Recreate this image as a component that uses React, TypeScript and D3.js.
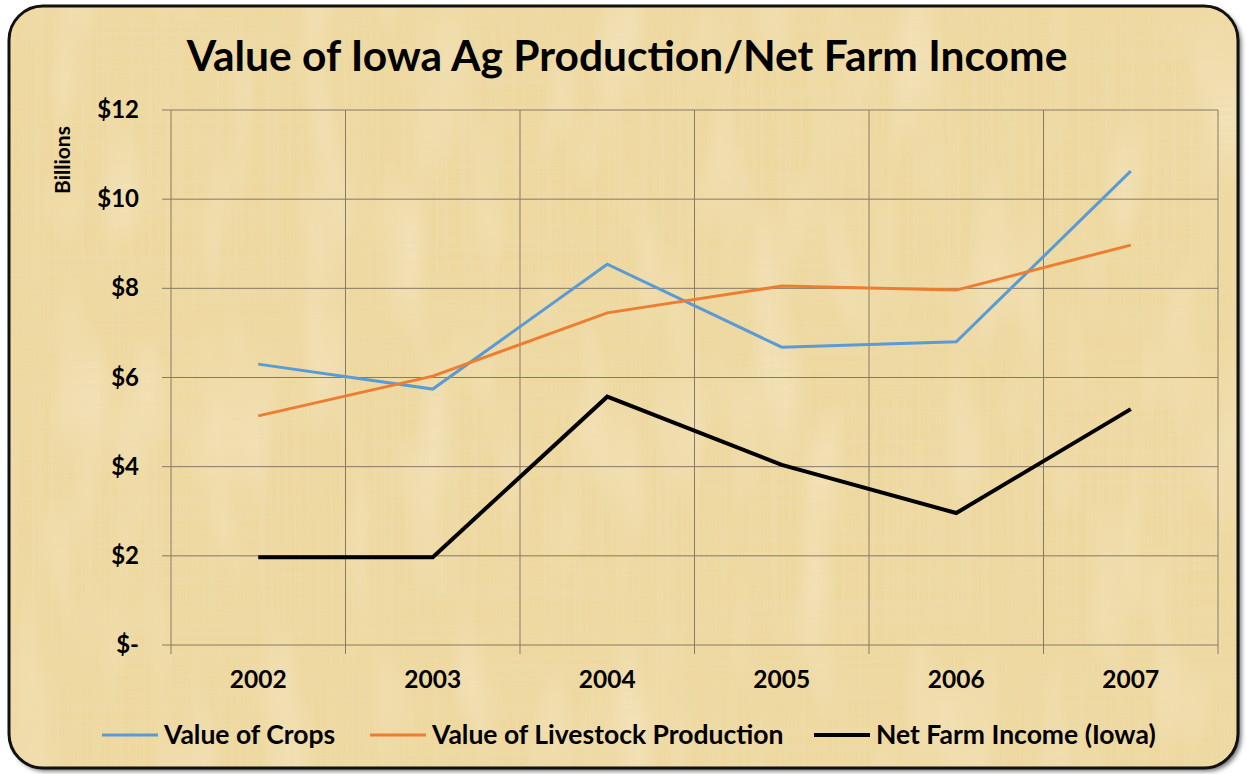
import React from "react";
import * as d3 from "d3";

const years = ["2002", "2003", "2004", "2005", "2006", "2007"];
const crops = [6.3, 5.74, 8.54, 6.68, 6.8, 10.63];
const livestock = [5.14, 6.03, 7.45, 8.05, 7.96, 8.97];
const netIncome = [1.97, 1.97, 5.57, 4.04, 2.96, 5.29];
const yTicks = [0, 2, 4, 6, 8, 10, 12];
const seriesNames = ["Value of Crops", "Value of Livestock Production", "Net Farm Income (Iowa)"];
const seriesColors = ["#5B9BD5", "#ED7D31", "#000000"];

const W = 1247, H = 774;
const M = { left: 171, right: 1218, top: 110, bottom: 645 };
const FONT = "Lato, 'Open Sans', sans-serif";

export default function App() {
  const x = d3.scaleBand<string>().domain(years).range([M.left, M.right]).padding(0);
  const y = d3.scaleLinear().domain([0, 12]).range([M.bottom, M.top]);
  const cx = (d: string) => (x(d) as number) + x.bandwidth() / 2;
  const line = d3.line<number>().x((_, i) => cx(years[i])).y((v) => y(v));
  const series = [crops, livestock, netIncome];
  const widths = [3, 3, 4];
  const bounds = [...years.map((d) => x(d) as number), M.right];
  const legendX = [102, 370, 814];

  return (
    <div style={{ position: "absolute", left: 0, top: 0 }}>
      <svg width={W} height={H} style={{ display: "block" }}>
        <defs>
          <filter id="papyrus" x="0" y="0" width="100%" height="100%">
            <feTurbulence type="fractalNoise" baseFrequency="0.003 0.5" numOctaves="2" seed="3" result="n1" />
            <feColorMatrix in="n1" type="matrix"
              values="0 0 0 0 0.84  0 0 0 0 0.71  0 0 0 0 0.42  0 0 0 1.3 -0.5" result="c1" />
            <feTurbulence type="fractalNoise" baseFrequency="0.5 0.003" numOctaves="2" seed="7" result="n2" />
            <feColorMatrix in="n2" type="matrix"
              values="0 0 0 0 0.85  0 0 0 0 0.72  0 0 0 0 0.45  0 0 0 1.3 -0.5" result="c2" />
            <feTurbulence type="fractalNoise" baseFrequency="0.02 0.006" numOctaves="2" seed="11" result="n3" />
            <feColorMatrix in="n3" type="matrix"
              values="0 0 0 0 0.98  0 0 0 0 0.92  0 0 0 0 0.76  0 0 0 1.0 -0.5" result="c3" />
            <feMerge>
              <feMergeNode in="SourceGraphic" />
              <feMergeNode in="c3" />
              <feMergeNode in="c1" />
              <feMergeNode in="c2" />
            </feMerge>
          </filter>
          <clipPath id="frame">
            <rect x={9} y={6} width={1229} height={762} rx={34} ry={34} />
          </clipPath>
          <filter id="shadow" x="-5%" y="-5%" width="110%" height="110%">
            <feDropShadow dx="3" dy="3" stdDeviation="2.5" floodColor="#000" floodOpacity="0.6" />
          </filter>
        </defs>
        <rect x={0} y={0} width={W} height={H} fill="#ffffff" />
        <rect x={9} y={6} width={1229} height={762} rx={34} ry={34} fill="#EFD89C" filter="url(#shadow)" />
        <g clipPath="url(#frame)">
          <rect x={9} y={6} width={1229} height={762} fill="#EFD89C" filter="url(#papyrus)" />
        </g>
        <rect x={9} y={6} width={1229} height={762} rx={34} ry={34} fill="none" stroke="#111" strokeWidth={3} />

        <text x={627} y={71} textAnchor="middle" fontFamily={FONT} fontWeight={700} fontSize={42.5} fill="#000">
          Value of Iowa Ag Production/Net Farm Income
        </text>

        {/* horizontal gridlines */}
        {yTicks.map((t) => (
          <line key={"h" + t} x1={M.left - 9} x2={M.right} y1={y(t)} y2={y(t)} stroke="#857a66" strokeWidth={1} />
        ))}
        {/* vertical gridlines */}
        {bounds.map((b, i) => (
          <line key={"v" + i} x1={b} x2={b} y1={M.top} y2={M.bottom + 9} stroke="#857a66" strokeWidth={1} />
        ))}

        {yTicks.map((t) => (
          <text key={"yl" + t} x={139} y={y(t) + 8} textAnchor="end" fontFamily={FONT} fontWeight={700} fontSize={24} fill="#000">
            {t === 0 ? "$-" : "$" + t}
          </text>
        ))}
        <text transform={`translate(70,160) rotate(-90)`} textAnchor="middle" fontFamily={FONT} fontWeight={700} fontSize={21} fill="#000">
          Billions
        </text>

        {years.map((d) => (
          <text key={"xl" + d} x={cx(d)} y={688} textAnchor="middle" fontFamily={FONT} fontWeight={700} fontSize={24.5} fill="#000">
            {d}
          </text>
        ))}

        {series.map((s, i) => (
          <path key={"s" + i} d={line(s) || ""} fill="none" stroke={seriesColors[i]} strokeWidth={widths[i]} strokeLinejoin="miter" />
        ))}

        {seriesNames.map((n, i) => (
          <g key={"lg" + i}>
            <line x1={legendX[i]} x2={legendX[i] + 56} y1={735} y2={735} stroke={seriesColors[i]} strokeWidth={widths[i]} />
            <text x={legendX[i] + 62} y={744} fontFamily={FONT} fontWeight={700} fontSize={26.5} fill="#000">
              {n}
            </text>
          </g>
        ))}
      </svg>
    </div>
  );
}
